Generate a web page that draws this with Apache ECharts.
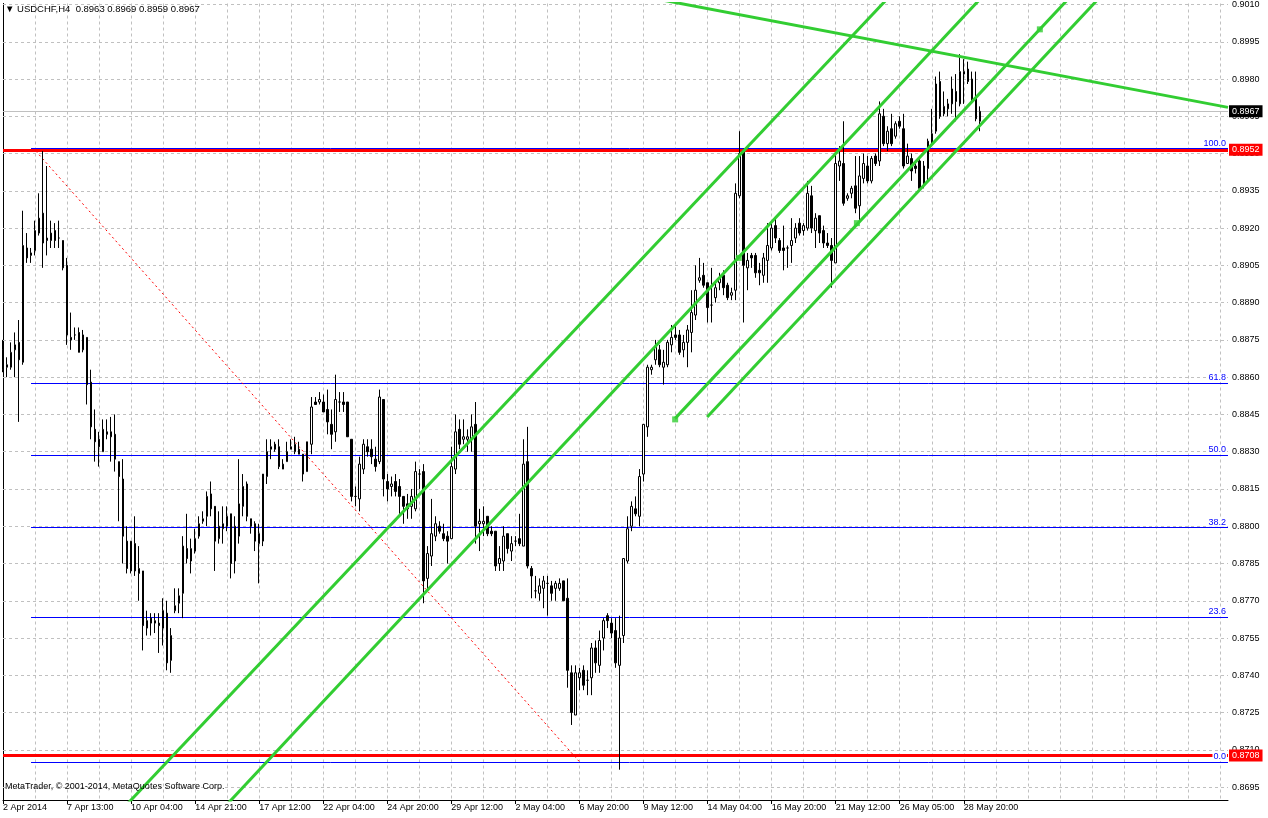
<!DOCTYPE html>
<html>
<head>
<meta charset="utf-8">
<title>USDCHF,H4</title>
<script src="https://cdn.jsdelivr.net/npm/echarts@6/dist/echarts.min.js"></script>
<style>
  html, body { margin: 0; padding: 0; background: #fff; }
  #chart { width: 1268px; height: 818px; }
</style>
</head>
<body>
<div id="chart"></div>
<script>
const symbolName = 'USDCHF,H4'
const slots = 307 // bar slots on the time axis, the right part is still empty

const open = [
  0.8871, 0.8864, 0.8864, 0.8871, 0.8874, 0.8866, 0.8912, 0.8909, 0.8911, 0.8918,
  0.8926, 0.8915, 0.8915, 0.8919, 0.8916, 0.8915, 0.8905, 0.8876, 0.8877, 0.8878,
  0.8871, 0.8876, 0.8858, 0.8839, 0.8835, 0.8830, 0.8838, 0.8838, 0.8837, 0.8826,
  0.8819, 0.8794, 0.8782, 0.8793, 0.8781, 0.8782, 0.8759, 0.8763, 0.8761, 0.8761,
  0.8759, 0.8765, 0.8746, 0.8766, 0.8769, 0.8773, 0.8791, 0.8786, 0.8790, 0.8796,
  0.8802, 0.8804, 0.8813, 0.8808, 0.8795, 0.8799, 0.8800, 0.8805, 0.8786, 0.8796,
  0.8808, 0.8817, 0.8803, 0.8801, 0.8793, 0.8794, 0.8820, 0.8831, 0.8833, 0.8832,
  0.8823, 0.8826, 0.8831, 0.8830, 0.8831, 0.8829, 0.8822, 0.8833, 0.8850, 0.8850,
  0.8850, 0.8847, 0.8841, 0.8838, 0.8850, 0.8850, 0.8850, 0.8835, 0.8812, 0.8811,
  0.8823, 0.8832, 0.8831, 0.8827, 0.8826, 0.8851, 0.8818, 0.8816, 0.8818, 0.8816,
  0.8812, 0.8809, 0.8808, 0.8807, 0.8821, 0.8822, 0.8779, 0.8788, 0.8796, 0.8800,
  0.8797, 0.8796, 0.8795, 0.8823, 0.8839, 0.8835, 0.8835, 0.8835, 0.8841, 0.8801,
  0.8801, 0.8804, 0.8798, 0.8798, 0.8785, 0.8786, 0.8797, 0.8790, 0.8794, 0.8795,
  0.8792, 0.8826, 0.8783, 0.8774, 0.8773, 0.8775, 0.8777, 0.8776, 0.8775, 0.8775,
  0.8778, 0.8771, 0.8741, 0.8724, 0.8739, 0.8742, 0.8738, 0.8739, 0.8751, 0.8744,
  0.8755, 0.8764, 0.8761, 0.8758, 0.8744, 0.8756, 0.8786, 0.8800, 0.8807, 0.8804,
  0.8821, 0.8840, 0.8863, 0.8867, 0.8871, 0.8864, 0.8865, 0.8873, 0.8877, 0.8877,
  0.8871, 0.8874, 0.8878, 0.8885, 0.8899, 0.8901, 0.8898, 0.8889, 0.8892, 0.8898,
  0.8901, 0.8897, 0.8893, 0.8895, 0.8933, 0.8951, 0.8904, 0.8909, 0.8909, 0.8903,
  0.8901, 0.8907, 0.8912, 0.8921, 0.8915, 0.8912, 0.8912, 0.8913, 0.8916, 0.8922,
  0.8919, 0.8920, 0.8933, 0.8919, 0.8925, 0.8919, 0.8914, 0.8913, 0.8906, 0.8945,
  0.8946, 0.8932, 0.8934, 0.8937, 0.8929, 0.8940, 0.8945, 0.8939, 0.8949, 0.8947,
  0.8965, 0.8954, 0.8960, 0.8957, 0.8963, 0.8960, 0.8946, 0.8948, 0.8945, 0.8947,
  0.8938, 0.8944, 0.8954, 0.8959, 0.8979, 0.8966, 0.8968, 0.8970, 0.8975, 0.8970,
  0.8982, 0.8984, 0.8980, 0.8973, 0.8963
]
const high = [
  0.8875, 0.8868, 0.8874, 0.8878, 0.8883, 0.8927, 0.8918, 0.8912, 0.8923, 0.8934,
  0.8951, 0.8945, 0.8923, 0.8922, 0.8923, 0.8915, 0.8908, 0.8886, 0.8880, 0.8880,
  0.8879, 0.8876, 0.8863, 0.8847, 0.8838, 0.8843, 0.8843, 0.8844, 0.8845, 0.8826,
  0.8827, 0.8800, 0.8794, 0.8804, 0.8792, 0.8782, 0.8766, 0.8765, 0.8765, 0.8765,
  0.8771, 0.8770, 0.8759, 0.8775, 0.8775, 0.8796, 0.8805, 0.8795, 0.8799, 0.8804,
  0.8806, 0.8814, 0.8818, 0.8808, 0.8806, 0.8808, 0.8808, 0.8805, 0.8804, 0.8827,
  0.8821, 0.8818, 0.8803, 0.8802, 0.8801, 0.8821, 0.8835, 0.8835, 0.8834, 0.8835,
  0.8827, 0.8834, 0.8835, 0.8836, 0.8834, 0.8829, 0.8834, 0.8852, 0.8852, 0.8854,
  0.8853, 0.8855, 0.8847, 0.8861, 0.8854, 0.8854, 0.8850, 0.8835, 0.8816, 0.8828,
  0.8835, 0.8835, 0.8835, 0.8832, 0.8855, 0.8851, 0.8821, 0.8820, 0.8821, 0.8819,
  0.8812, 0.8813, 0.8815, 0.8826, 0.8823, 0.8825, 0.8792, 0.8811, 0.8804, 0.8802,
  0.8801, 0.8798, 0.8832, 0.8845, 0.8843, 0.8843, 0.8839, 0.8845, 0.8850, 0.8807,
  0.8808, 0.8804, 0.8800, 0.8798, 0.8792, 0.8800, 0.8797, 0.8796, 0.8796, 0.8805,
  0.8835, 0.8840, 0.8784, 0.8780, 0.8779, 0.8780, 0.8780, 0.8778, 0.8778, 0.8779,
  0.8778, 0.8779, 0.8744, 0.8744, 0.8743, 0.8744, 0.8742, 0.8753, 0.8754, 0.8758,
  0.8763, 0.8765, 0.8763, 0.8763, 0.8764, 0.8787, 0.8804, 0.8810, 0.8812, 0.8823,
  0.8841, 0.8865, 0.8865, 0.8875, 0.8873, 0.8871, 0.8875, 0.8881, 0.8881, 0.8879,
  0.8877, 0.8881, 0.8895, 0.8905, 0.8908, 0.8906, 0.8898, 0.8904, 0.8898, 0.8902,
  0.8903, 0.8898, 0.8896, 0.8938, 0.8959, 0.8952, 0.8910, 0.8910, 0.8910, 0.8906,
  0.8910, 0.8922, 0.8922, 0.8924, 0.8916, 0.8921, 0.8913, 0.8924, 0.8922, 0.8924,
  0.8922, 0.8939, 0.8937, 0.8926, 0.8925, 0.8921, 0.8918, 0.8916, 0.8950, 0.8953,
  0.8963, 0.8934, 0.8937, 0.8949, 0.8949, 0.8950, 0.8949, 0.8949, 0.8950, 0.8971,
  0.8968, 0.8961, 0.8966, 0.8963, 0.8965, 0.8966, 0.8954, 0.8950, 0.8946, 0.8948,
  0.8947, 0.8956, 0.8968, 0.8981, 0.8983, 0.8975, 0.8972, 0.8981, 0.8982, 0.8990,
  0.8988, 0.8987, 0.8983, 0.8983, 0.8969
]
const low = [
  0.8862, 0.8860, 0.8863, 0.8860, 0.8842, 0.8865, 0.8906, 0.8906, 0.8909, 0.8917,
  0.8904, 0.8909, 0.8912, 0.8912, 0.8912, 0.8903, 0.8873, 0.8871, 0.8875, 0.8870,
  0.8870, 0.8849, 0.8835, 0.8826, 0.8824, 0.8830, 0.8835, 0.8826, 0.8822, 0.8802,
  0.8785, 0.8781, 0.8781, 0.8780, 0.8770, 0.8750, 0.8756, 0.8756, 0.8757, 0.8749,
  0.8752, 0.8742, 0.8741, 0.8765, 0.8765, 0.8763, 0.8785, 0.8781, 0.8789, 0.8795,
  0.8801, 0.8800, 0.8804, 0.8782, 0.8793, 0.8793, 0.8798, 0.8779, 0.8781, 0.8793,
  0.8804, 0.8802, 0.8797, 0.8790, 0.8777, 0.8792, 0.8817, 0.8827, 0.8830, 0.8823,
  0.8823, 0.8826, 0.8831, 0.8829, 0.8829, 0.8818, 0.8822, 0.8829, 0.8849, 0.8849,
  0.8846, 0.8837, 0.8831, 0.8834, 0.8846, 0.8846, 0.8836, 0.8810, 0.8808, 0.8806,
  0.8821, 0.8828, 0.8825, 0.8822, 0.8825, 0.8812, 0.8810, 0.8812, 0.8812, 0.8805,
  0.8801, 0.8803, 0.8803, 0.8806, 0.8815, 0.8769, 0.8774, 0.8784, 0.8794, 0.8797,
  0.8794, 0.8785, 0.8795, 0.8821, 0.8831, 0.8833, 0.8830, 0.8830, 0.8793, 0.8790,
  0.8796, 0.8796, 0.8796, 0.8782, 0.8782, 0.8782, 0.8789, 0.8786, 0.8792, 0.8792,
  0.8792, 0.8783, 0.8771, 0.8771, 0.8770, 0.8767, 0.8764, 0.8770, 0.8770, 0.8774,
  0.8770, 0.8735, 0.8720, 0.8724, 0.8734, 0.8734, 0.8732, 0.8732, 0.8741, 0.8741,
  0.8750, 0.8759, 0.8755, 0.8743, 0.8702, 0.8753, 0.8785, 0.8798, 0.8804, 0.8800,
  0.8818, 0.8836, 0.8861, 0.8865, 0.8864, 0.8857, 0.8864, 0.8870, 0.8875, 0.8869,
  0.8868, 0.8864, 0.8870, 0.8883, 0.8898, 0.8896, 0.8882, 0.8882, 0.8890, 0.8895,
  0.8893, 0.8891, 0.8891, 0.8891, 0.8932, 0.8882, 0.8895, 0.8904, 0.8900, 0.8897,
  0.8898, 0.8898, 0.8911, 0.8914, 0.8910, 0.8903, 0.8904, 0.8906, 0.8914, 0.8917,
  0.8917, 0.8919, 0.8918, 0.8912, 0.8914, 0.8912, 0.8912, 0.8896, 0.8906, 0.8939,
  0.8929, 0.8931, 0.8932, 0.8926, 0.8923, 0.8938, 0.8938, 0.8938, 0.8945, 0.8945,
  0.8953, 0.8951, 0.8953, 0.8956, 0.8960, 0.8944, 0.8946, 0.8939, 0.8942, 0.8935,
  0.8936, 0.8939, 0.8953, 0.8958, 0.8964, 0.8965, 0.8965, 0.8966, 0.8963, 0.8969,
  0.8970, 0.8978, 0.8971, 0.8963, 0.8959
]
const close = [
  0.8863, 0.8865, 0.8870, 0.8873, 0.8867, 0.8913, 0.8908, 0.8910, 0.8919, 0.8924,
  0.8914, 0.8916, 0.8918, 0.8915, 0.8916, 0.8904, 0.8877, 0.8875, 0.8877, 0.8870,
  0.8877, 0.8857, 0.8840, 0.8834, 0.8832, 0.8839, 0.8837, 0.8836, 0.8827, 0.8820,
  0.8796, 0.8783, 0.8794, 0.8782, 0.8783, 0.8760, 0.8762, 0.8761, 0.8762, 0.8760,
  0.8766, 0.8745, 0.8756, 0.8768, 0.8772, 0.8792, 0.8787, 0.8791, 0.8795, 0.8801,
  0.8803, 0.8812, 0.8807, 0.8794, 0.8800, 0.8801, 0.8804, 0.8785, 0.8800, 0.8809,
  0.8816, 0.8804, 0.8800, 0.8794, 0.8797, 0.8821, 0.8830, 0.8832, 0.8831, 0.8824,
  0.8825, 0.8830, 0.8832, 0.8833, 0.8829, 0.8821, 0.8834, 0.8848, 0.8849, 0.8851,
  0.8846, 0.8842, 0.8837, 0.8851, 0.8850, 0.8849, 0.8836, 0.8812, 0.8812, 0.8825,
  0.8833, 0.8830, 0.8828, 0.8824, 0.8852, 0.8819, 0.8815, 0.8817, 0.8814, 0.8812,
  0.8808, 0.8807, 0.8812, 0.8822, 0.8821, 0.8778, 0.8789, 0.8797, 0.8801, 0.8798,
  0.8795, 0.8794, 0.8824, 0.8838, 0.8833, 0.8836, 0.8836, 0.8840, 0.8800, 0.8802,
  0.8802, 0.8797, 0.8797, 0.8784, 0.8787, 0.8796, 0.8791, 0.8793, 0.8794, 0.8793,
  0.8825, 0.8784, 0.8780, 0.8774, 0.8776, 0.8778, 0.8777, 0.8773, 0.8777, 0.8777,
  0.8770, 0.8742, 0.8725, 0.8741, 0.8741, 0.8736, 0.8738, 0.8751, 0.8745, 0.8754,
  0.8762, 0.8762, 0.8757, 0.8745, 0.8755, 0.8787, 0.8799, 0.8808, 0.8805, 0.8820,
  0.8841, 0.8864, 0.8864, 0.8872, 0.8865, 0.8866, 0.8874, 0.8876, 0.8876, 0.8870,
  0.8874, 0.8879, 0.8886, 0.8895, 0.8900, 0.8897, 0.8888, 0.8889, 0.8896, 0.8900,
  0.8896, 0.8892, 0.8894, 0.8934, 0.8950, 0.8905, 0.8907, 0.8908, 0.8902, 0.8902,
  0.8908, 0.8913, 0.8920, 0.8916, 0.8911, 0.8911, 0.8912, 0.8915, 0.8920, 0.8918,
  0.8921, 0.8934, 0.8920, 0.8924, 0.8918, 0.8914, 0.8913, 0.8907, 0.8946, 0.8947,
  0.8930, 0.8933, 0.8936, 0.8928, 0.8941, 0.8946, 0.8939, 0.8948, 0.8946, 0.8966,
  0.8954, 0.8959, 0.8954, 0.8962, 0.8961, 0.8945, 0.8949, 0.8943, 0.8944, 0.8936,
  0.8945, 0.8955, 0.8958, 0.8978, 0.8965, 0.8969, 0.8970, 0.8976, 0.8971, 0.8983,
  0.8983, 0.8979, 0.8972, 0.8964, 0.8967
]

const xTickLabels = [
  '2 Apr 2014', '7 Apr 13:00', '10 Apr 04:00', '14 Apr 21:00', '17 Apr 12:00',
  '22 Apr 04:00', '24 Apr 20:00', '29 Apr 12:00', '2 May 04:00', '6 May 20:00',
  '9 May 12:00', '14 May 04:00', '16 May 20:00', '21 May 12:00', '26 May 05:00',
  '28 May 20:00'
]
const yTicks = [
  0.8695, 0.8710, 0.8725, 0.8740, 0.8755, 0.8770, 0.8785, 0.8800, 0.8815, 0.8830, 0.8845,
  0.8860, 0.8875, 0.8890, 0.8905, 0.8920, 0.8935, 0.8950, 0.8965, 0.8980, 0.8995, 0.9010
]

// fibonacci retracement, drawn from bar 7 to the right edge
const fibNames = ['100.0', '61.8', '50.0', '38.2', '23.6', '0.0']
const fibPrices = [0.8952, 0.88577, 0.88285, 0.87994, 0.87633, 0.8705]
const fibStart = 7

// horizontal lines
const redLevels = [0.89515, 0.87077]
const redLabels = ['0.8952', '0.8708']

// hand drawn objects: [bar, price] pairs
const greenLines = [
  [[30, 0.86864], [222, 0.90142]],
  [[56, 0.86881], [245, 0.90138]],
  [[167.9, 0.88434], [267, 0.90138]],
  [[175.9, 0.88440], [274.5, 0.90138]],
  [[165, 0.90117], [306, 0.89686]]
]
const greenSquares = [[167.9, 0.8843], [183.8, 0.8908], [213.3, 0.8922], [259.0, 0.9000]]
const fibTrend = [[8.2, 0.8951], [144.1, 0.8705]]

const yMin = 0.86898
const yMax = 0.90104

const FONT = 'Liberation Sans'
const GREEN = '#32cd32'
const GRID = '#c0c0c0'

const last = close.length - 1
const slotIdx = Array.from({ length: slots }, (_, i) => i)
const candles = open.map((o, i) => [o, close[i], low[i], high[i]])
const isTick = (i) => i % 16 === 0 && i / 16 < xTickLabels.length

const chart = echarts.init(document.getElementById('chart'))

function priceBox(value, text, bg) {
  return {
    yAxis: value,
    lineStyle: { width: 0 },
    label: {
      show: true, position: 'end', distance: 1, formatter: text,
      color: '#fff', backgroundColor: bg, padding: [2, 3, 1, 3],
      fontFamily: FONT, fontSize: 9
    }
  }
}

chart.setOption({
  animation: false,
  backgroundColor: '#fff',
  grid: { left: 3, right: 40, top: 3, bottom: 18 },
  xAxis: [
    {
      type: 'category',
      data: slotIdx,
      boundaryGap: false,
      axisLine: { lineStyle: { color: '#000', width: 1 } },
      axisTick: { interval: isTick, length: 4, lineStyle: { color: '#000' } },
      axisLabel: {
        interval: isTick,
        formatter: (v, i) => (isTick(i) ? xTickLabels[i / 16] : ''),
        align: 'left',
        margin: 3,
        color: '#000',
        fontFamily: FONT,
        fontSize: 9
      },
      splitLine: { show: true, interval: (i) => i % 8 === 0, lineStyle: { color: GRID, type: [3, 3] } }
    },
    { type: 'value', min: 0, max: slots - 1, show: false }
  ],
  yAxis: [
    {
      type: 'value',
      position: 'right',
      min: yMin,
      max: yMax,
      axisLine: { show: true, lineStyle: { color: '#000' } },
      axisTick: { show: true, customValues: yTicks, length: 3, lineStyle: { color: '#000' } },
      axisLabel: {
        customValues: yTicks,
        formatter: (v) => v.toFixed(4),
        margin: 4,
        color: '#000',
        fontFamily: FONT,
        fontSize: 9
      },
      splitLine: { show: false }
    },
    {
      type: 'value',
      position: 'left',
      min: yMin,
      max: yMax,
      axisLine: { show: true, lineStyle: { color: '#000' } },
      axisTick: { show: false },
      axisLabel: { show: false },
      splitLine: { show: false }
    }
  ],
  graphic: [
    {
      type: 'text', left: 5, top: 4, z: 10,
      style: {
        text: '▼ ' + symbolName + '  ' + [open[last], high[last], low[last], close[last]].map((v) => v.toFixed(4)).join(' '),
        fill: '#000', font: '9.5px "' + FONT + '"'
      }
    },
    {
      type: 'text', left: 5, top: 782, z: 10,
      style: { text: 'MetaTrader, © 2001-2014, MetaQuotes Software Corp.', fill: '#000', font: '9px "' + FONT + '"' }
    }
  ],
  series: [
    {
      // horizontal price grid
      type: 'line', xAxisIndex: 1, data: [], silent: true,
      markLine: {
        silent: true, symbol: ['none', 'none'], z: 1, animation: false, precision: 5,
        label: { show: false },
        lineStyle: { color: GRID, type: [3, 3], width: 1 },
        data: yTicks.map((v) => ({ yAxis: v }))
      }
    },
    {
      // bid line and thick red levels
      type: 'line', xAxisIndex: 1, data: [], silent: true,
      markLine: {
        silent: true, symbol: ['none', 'none'], z: 2, animation: false, precision: 5,
        label: { show: false },
        data: [
          { yAxis: close[last], lineStyle: { color: '#c0c0c0', width: 1, type: 'solid' } },
          ...redLevels.map((v) => ({ yAxis: v, lineStyle: { color: '#ff0000', width: 3, type: 'solid' } }))
        ]
      }
    },
    {
      // fibonacci levels
      type: 'line', xAxisIndex: 1, data: [], silent: true,
      markLine: {
        silent: true, symbol: ['none', 'none'], z: 3, animation: false, precision: 5,
        lineStyle: { color: '#0000ff', width: 1, type: 'solid' },
        label: {
          show: true, position: 'insideEndTop', distance: 1, color: '#0000ff',
          backgroundColor: '#fff', padding: [0, 1, 0, 1], fontFamily: FONT, fontSize: 9
        },
        data: fibPrices.map((p, i) => [
          { coord: [fibStart, p], label: { formatter: fibNames[i] } },
          { coord: [slots - 1, p] }
        ])
      }
    },
    {
      type: 'line', xAxisIndex: 1, data: fibTrend, symbol: 'none', silent: true, z: 3,
      lineStyle: { color: '#ff0000', width: 1, type: [2, 3] }
    },
    {
      type: 'candlestick',
      xAxisIndex: 0,
      data: candles,
      barWidth: 2,
      silent: true,
      z: 4,
      itemStyle: { color: '#fff', color0: '#000', borderColor: '#000', borderColor0: '#000', borderWidth: 1 }
    },
    ...greenLines.map((pts) => ({
      type: 'line', xAxisIndex: 1, data: pts, symbol: 'none', silent: true, z: 5,
      lineStyle: { color: GREEN, width: 3 }
    })),
    {
      type: 'scatter', xAxisIndex: 1, data: greenSquares, symbol: 'rect', symbolSize: 6, silent: true, z: 6,
      itemStyle: { color: GREEN }
    },
    {
      // price boxes on the right scale
      type: 'line', xAxisIndex: 1, data: [], silent: true, clip: false,
      markLine: {
        silent: true, symbol: ['none', 'none'], z: 7, animation: false, precision: 5,
        data: [
          priceBox(close[last], close[last].toFixed(4), '#000'),
          ...redLevels.map((v, i) => priceBox(v, redLabels[i], '#ff0000'))
        ]
      }
    }
  ]
})
</script>
</body>
</html>
